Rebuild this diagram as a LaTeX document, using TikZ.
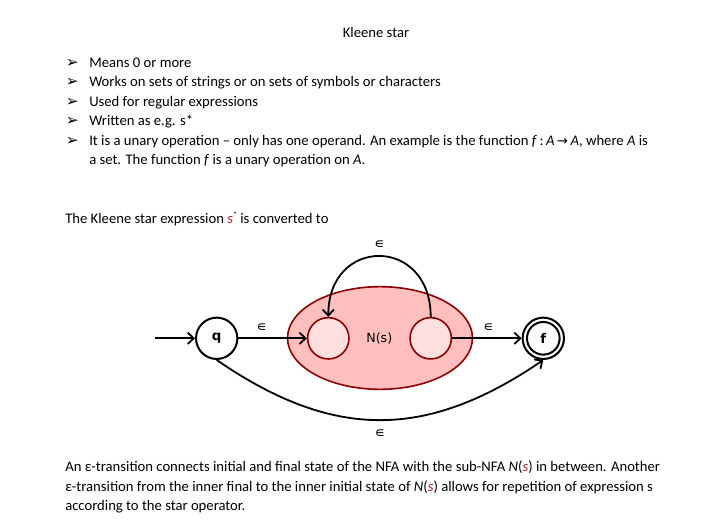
\documentclass[tikz,border=0pt]{standalone}
\usepackage{fontspec}
\setmainfont{Carlito}
\newfontfamily\dejavu{DejaVu Sans}
\usetikzlibrary{arrows.meta,shapes.geometric}
\definecolor{nsfill}{RGB}{255,191,191}
\definecolor{nsline}{RGB}{140,0,0}
\definecolor{infill}{RGB}{255,222,222}
\definecolor{sred}{RGB}{180,20,20}
\begin{document}
\begin{tikzpicture}[x=0.75pt,y=-0.75pt,
  txt/.style={anchor=base west, inner sep=0pt, font=\fontsize{11}{13}\selectfont},
  bul/.style={anchor=base west, inner sep=0pt, font=\dejavu\fontsize{11.5}{13}\selectfont},
  state/.style={circle, draw=black, line width=1.5pt, fill=white, minimum size=31pt, inner sep=0pt, font=\dejavu\bfseries\fontsize{10}{12}\selectfont},
  inner/.style={circle, draw=nsline, line width=1.2pt, fill=infill, minimum size=31pt, inner sep=0pt},
  eps/.style={inner sep=0pt, font=\dejavu\fontsize{10.5}{12}\selectfont},
  arr/.style={line width=1.35pt, -{Straight Barb[length=4.5pt,width=8.5pt,line width=1.35pt]}}
]
\useasboundingbox (0,0) rectangle (728,529);

% title
\node[txt, anchor=base] (title) at (376,37) {Kleene star};

% bullets
\foreach \y/\n in {67/b1,86/b2,106/b3,125/b4,145/b5}{
  \node[bul] (\n) at (65.5,\y) {➢};
}
\node[txt] (t1) at (89,67) {Means 0 or more};
\node[txt] (t2) at (89,86) {Works on sets of strings or on sets of symbols or characters};
\node[txt] (t3) at (89,106) {Used for regular expressions};
\node[txt] (t4) at (89,125) {Written as e.g. s*};
\node[txt] (t5) at (89,145) {It is a unary operation – only has one operand. An example is the function \textit{f}\,:\,\textit{A}\,{\dejavu\fontsize{10}{12}\selectfont →}\,\textit{A}, where \textit{A} is};
\node[txt] (t6) at (89,164) {a set. The function \textit{f} is a unary operation on \textit{A}.};

\node[txt] (t7) at (65,223) {The Kleene star expression {\color{sred}\textit{s}}\raisebox{4pt}{\fontsize{6}{6}\selectfont *} is converted to};

% diagram
\node[ellipse, draw=nsline, line width=1.2pt, fill=nsfill, minimum width=138.75pt, minimum height=77pt, inner sep=0pt] (ns) at (380,338) {};
\node[inner sep=0pt, font=\dejavu\fontsize{9.5}{11}\selectfont] (nsl) at (379.3,338.3) {N(s)};
\node[inner] (n1) at (328.3,338.3) {};
\node[inner] (n2) at (430.7,338.3) {};
\node[state] (q) at (216.7,338.3) {q};
\node[state] (f) at (543.3,338.3) {f};
\node[circle, draw=black, line width=1.5pt, minimum size=24.5pt, inner sep=0pt] (fi) at (f) {};
\coordinate (start) at (155,338.3);

\draw[arr] (start) -- (q);
\draw[arr] (q) -- (n1);
\draw[arr] (n2) -- (f);
\draw[arr] (n2.north) .. controls (430.7,236) and (328.3,236) .. (n1.north);
\draw[arr] (q.south) .. controls (333,440) and (426,440) .. (f.south);

\node[eps] (e1) at (261.7,327.5) {∊};
\node[eps] (e2) at (488.3,327.5) {∊};
\node[eps] (e3) at (379.3,245) {∊};
\node[eps] (e4) at (380,434) {∊};

% bottom text
\node[txt] (u1) at (65,471) {An ε-transition connects initial and final state of the NFA with the sub-NFA \textit{N}(\textit{\color{sred}s}) in between. Another};
\node[txt] (u2) at (65,491) {ε-transition from the inner final to the inner initial state of \textit{N}(\textit{\color{sred}s}) allows for repetition of expression s};
\node[txt] (u3) at (65,510) {according to the star operator.};
\end{tikzpicture}
\end{document}
